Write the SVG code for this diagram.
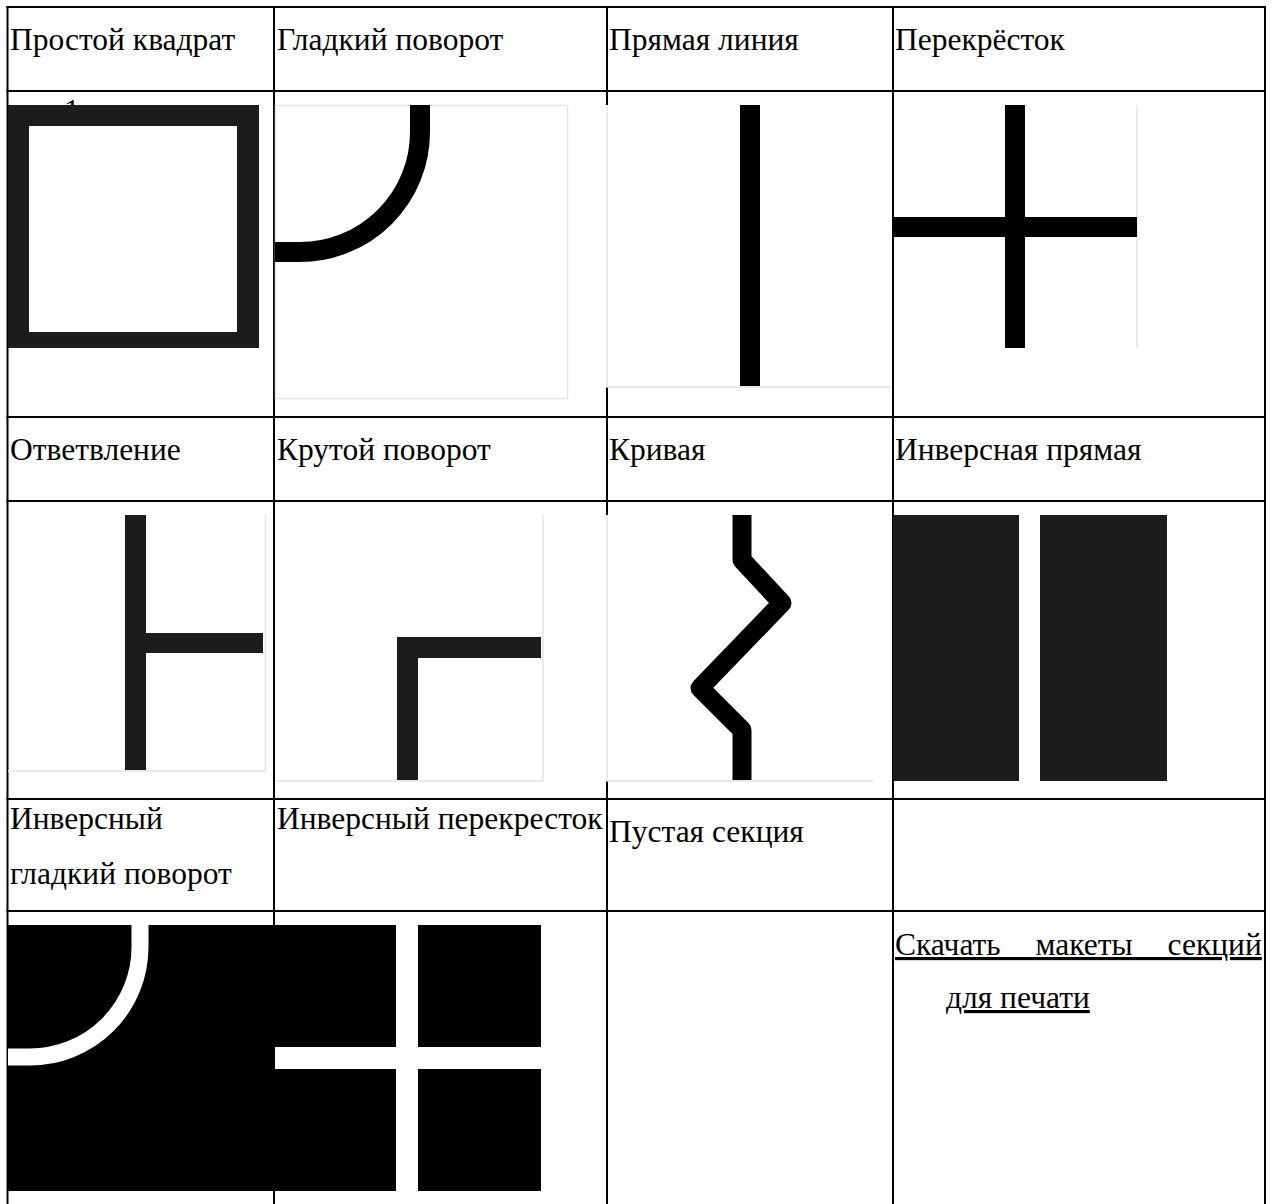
<svg xmlns="http://www.w3.org/2000/svg" width="1273" height="1204" viewBox="0 0 1273 1204">
<style>
  text { font-family: "Liberation Serif", "Times New Roman", serif; font-size: 31.5px; fill: #000; }
  .grid line { stroke: #000; stroke-width: 2; }
  .frame { stroke: #e4e4e4; stroke-width: 1.5; fill: none; }
  .dark { fill: #1c1c1c; }
  .blk { fill: #000; }
  .wht { fill: #fff; }
  .link { text-decoration: underline; }
</style>
<rect width="1273" height="1204" fill="#fff"/>

<g id="table-grid" class="grid">
  <line x1="6.5" y1="7" x2="1266" y2="7"/>
  <line x1="6.5" y1="91" x2="1266" y2="91"/>
  <line x1="6.5" y1="417" x2="1266" y2="417"/>
  <line x1="6.5" y1="501" x2="1266" y2="501"/>
  <line x1="6.5" y1="799" x2="1266" y2="799"/>
  <line x1="6.5" y1="911" x2="1266" y2="911"/>
  <line x1="7.5" y1="6" x2="7.5" y2="1204"/>
  <line x1="274" y1="6" x2="274" y2="1204"/>
  <line x1="607" y1="6" x2="607" y2="1204"/>
  <line x1="893" y1="6" x2="893" y2="1204"/>
  <line x1="1265" y1="6" x2="1265" y2="1204"/>
</g>

<!-- Row 1 headers -->
<g id="h-simple-square"><text x="10" y="50">Простой квадрат</text></g>
<g id="h-smooth-turn"><text x="277" y="50">Гладкий поворот</text></g>
<g id="h-straight"><text x="609" y="50">Прямая линия</text></g>
<g id="h-crossroad"><text x="895" y="50">Перекрёсток</text></g>

<!-- Row 1 images -->
<g id="img-simple-square">
  <text x="64" y="121">1</text>
  <rect class="dark" x="8" y="105" width="251" height="243"/>
  <rect class="wht" x="29" y="126" width="208" height="206"/>
</g>
<g id="img-smooth-turn">
  <rect x="275.5" y="105.5" width="292" height="293" fill="#fff" stroke="#e4e4e4" stroke-width="1.5"/>
  <path d="M420,105 V132 A120,120 0 0 1 300,252 H275" fill="none" stroke="#000" stroke-width="20"/>
</g>
<g id="img-straight">
  <rect class="wht" x="606" y="105" width="285" height="282"/>
  <path class="frame" d="M607,105 V387 H891"/>
  <rect class="blk" x="740" y="105" width="20" height="281"/>
</g>
<g id="img-crossroad">
  <rect class="wht" x="894" y="105" width="243" height="243"/>
  <path class="frame" d="M1137,105 V348"/>
  <rect class="blk" x="1005" y="105" width="20" height="243"/>
  <rect class="blk" x="893" y="217" width="244" height="20"/>
</g>

<!-- Row 2 headers -->
<g id="h-branch"><text x="10" y="460">Ответвление</text></g>
<g id="h-sharp-turn"><text x="277" y="460">Крутой поворот</text></g>
<g id="h-curve"><text x="609" y="460">Кривая</text></g>
<g id="h-inverse-straight"><text x="895" y="460">Инверсная прямая</text></g>

<!-- Row 2 images -->
<g id="img-branch">
  <path class="frame" d="M265.5,515 V771 H8"/>
  <rect class="dark" x="125" y="515" width="21" height="255"/>
  <rect class="dark" x="146" y="633" width="117" height="20"/>
</g>
<g id="img-sharp-turn">
  <path class="frame" d="M543,515 V781 H275"/>
  <rect class="dark" x="397" y="637" width="21" height="143"/>
  <rect class="dark" x="397" y="637" width="144" height="21"/>
</g>
<g id="img-curve">
  <rect class="wht" x="606" y="515" width="268" height="266"/>
  <path class="frame" d="M607,515 V781 H874"/>
  <polyline points="742,515 742,560 782,603 700,688 742,730 742,780" fill="none" stroke="#000" stroke-width="19" stroke-linejoin="round"/>
</g>
<g id="img-inverse-straight">
  <rect class="dark" x="893" y="515" width="126" height="266"/>
  <rect class="dark" x="1040" y="515" width="127" height="266"/>
</g>

<!-- Row 3 headers -->
<g id="h-inverse-smooth-turn">
  <text x="10" y="829">Инверсный</text>
  <text x="10" y="884">гладкий поворот</text>
</g>
<g id="h-inverse-crossroad"><text x="277" y="829">Инверсный перекресток</text></g>
<g id="h-empty"><text x="609" y="842">Пустая секция</text></g>

<!-- Row 3 images -->
<g id="img-inverse-smooth-turn">
  <rect class="blk" x="8" y="925" width="265" height="266"/>
  <path d="M140,925 V947 A110,110 0 0 1 30,1057 H8" fill="none" stroke="#fff" stroke-width="17"/>
</g>
<g id="img-inverse-crossroad">
  <rect class="blk" x="275" y="925" width="266" height="266"/>
  <rect class="wht" x="396" y="925" width="22" height="266"/>
  <rect class="wht" x="275" y="1047" width="266" height="22"/>
</g>
<g id="download-link">
  <text x="895" y="955" class="link" word-spacing="27">Скачать макеты секций</text>
  <text x="946" y="1008" class="link">для печати</text>
</g>
</svg>
